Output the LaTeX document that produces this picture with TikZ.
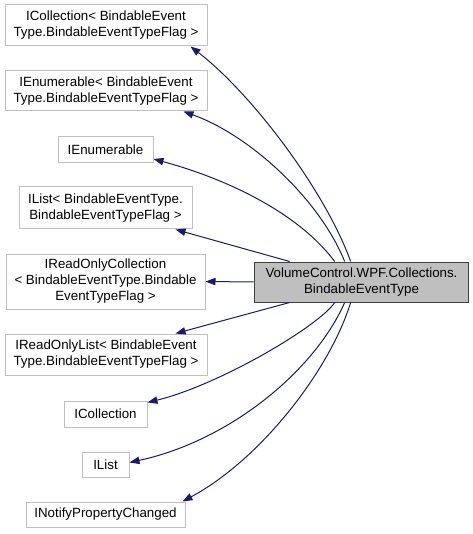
\documentclass[tikz,border=0pt]{standalone}
\usepackage{fontspec}
\setmainfont{Liberation Sans}
\usepackage{tikz}
\usetikzlibrary{arrows.meta, positioning, calc}
\definecolor{edgenavy}{RGB}{25,25,112}
\definecolor{boxgray}{RGB}{191,191,191}
\definecolor{rimdark}{RGB}{64,64,64}

\begin{document}
\begin{tikzpicture}[x=0.75pt, y=-0.75pt,
    every node/.style={font=\fontsize{10}{12}\selectfont, inner sep=0pt, align=center},
    base/.style={draw=boxgray, line width=0.75pt, fill=white},
    cls/.style={draw=rimdark, line width=0.75pt, fill=boxgray},
    inh/.style={draw=edgenavy, line width=0.75pt, -{Triangle[length=7.5pt, width=5.5pt]}}]
  \useasboundingbox (0,0) rectangle (473,534);
  % the class itself
  \node[cls, minimum width=161pt, minimum height=30pt] (main) at (361.5,282)
    {VolumeControl.WPF.Collections.\\BindableEventType};
  % interfaces, top to bottom
  \node[base, minimum width=151.5pt, minimum height=30.75pt] (icollT) at (106,25.5)
    {ICollection< BindableEvent\\Type.BindableEventTypeFlag >};
  \node[base, minimum width=151.5pt, minimum height=30pt] (ienumT) at (106,91)
    {IEnumerable< BindableEvent\\Type.BindableEventTypeFlag >};
  \node[base, minimum width=71.25pt, minimum height=19.5pt] (ienum) at (105.5,150) {IEnumerable};
  \node[base, minimum width=129.75pt, minimum height=31.5pt] (ilistT) at (105.5,208)
    {IList< BindableEventType.\\BindableEventTypeFlag >};
  \node[base, minimum width=149.25pt, minimum height=41.25pt] (irocoll) at (105.5,281.5)
    {IReadOnlyCollection\\< BindableEventType.Bindable\\EventTypeFlag >};
  \node[base, minimum width=151.5pt, minimum height=30.75pt] (irolist) at (106,354.5)
    {IReadOnlyList< BindableEvent\\Type.BindableEventTypeFlag >};
  \node[base, minimum width=62.25pt, minimum height=19.5pt] (icoll) at (105.5,414) {ICollection};
  \node[base, minimum width=35.25pt, minimum height=18.75pt] (ilist) at (105.5,464.5) {IList};
  \node[base, minimum width=119.25pt, minimum height=18.75pt] (inotify) at (105.5,514.5) {INotifyPropertyChanged};

  % inheritance arrows
  \draw[inh] ($(main.north west)+(97,0)$) .. controls +(-26,-72) and +(60,46) .. ($(icollT.south east)+(-17,0)$);
  \draw[inh] ($(main.north west)+(91,0)$) .. controls +(-25,-62) and +(67,24) .. ($(ienumT.south east)+(-24,0)$);
  \draw[inh] ($(main.north west)+(81,0)$) .. controls +(-35,-47) and +(77,21) .. ($(ienum.east)+(0,9)$);
  \draw[inh] ($(main.north west)+(36,0)$) -- ($(ilistT.south east)+(-17,0)$);
  \draw[inh] (main.west) -- (irocoll.east);
  \draw[inh] ($(main.south west)+(36,0)$) -- ($(irolist.north east)+(-32,0)$);
  \draw[inh] ($(main.south west)+(81,0)$) .. controls +(-15,23) and +(73,-18) .. ($(icoll.north east)+(0,2)$);
  \draw[inh] ($(main.south west)+(91,0)$) .. controls +(-30,68) and +(101,-22) .. ($(ilist.east)+(0,-2)$);
  \draw[inh] ($(main.south west)+(97,0)$) .. controls +(-21,68) and +(78,-42) .. ($(inotify.north east)+(-3,0)$);
\end{tikzpicture}
\end{document}
